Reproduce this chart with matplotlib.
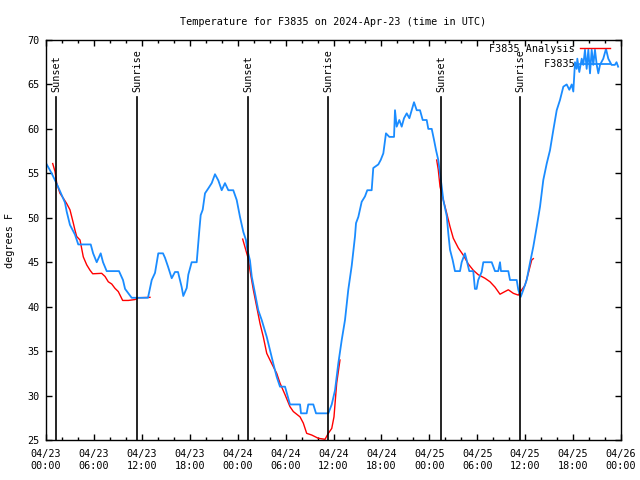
import matplotlib
matplotlib.use("Agg")
import matplotlib.pyplot as plt
import matplotlib.dates as mdates
import numpy as np
import pandas as pd

START = pd.Timestamp("2024-04-23 00:00")

# station observations: hours since start, degrees F
obs_hours = [
    0.09, 0.71, 1.25, 1.75, 2.38, 2.59, 3.0, 3.63, 4.04, 5.6, 5.9, 6.35, 6.85, 7.14, 7.6,
    9.14, 9.64, 9.9, 10.73, 12.77, 13.24, 13.65, 14.06, 14.65, 14.9, 15.28, 15.74, 16.15,
    16.53, 16.99, 17.19, 17.62, 17.82, 18.24, 18.87, 19.2, 19.37, 19.62, 19.91, 20.32,
    20.75, 21.16, 21.58, 22.0, 22.41, 22.83, 23.45, 23.88, 24.29, 24.71, 25.04, 25.21,
    25.54, 25.76, 26.17, 26.58, 27.01, 27.64, 28.05, 28.46, 28.89, 29.3, 29.93, 30.55,
    31.81, 31.93, 32.64, 32.84, 33.47, 33.81, 35.35, 35.78, 36.19, 36.6, 37.03, 37.44,
    37.85, 38.28, 38.69, 38.82, 39.11, 39.53, 39.94, 40.23, 40.78, 40.98, 41.61, 41.91,
    42.24, 42.57, 42.99, 43.58, 43.7, 43.91, 44.24, 44.54, 44.83, 45.17, 45.5, 45.79,
    46.08, 46.42, 46.83, 47.17, 47.67, 47.87, 48.3, 48.59, 48.84, 49.12, 49.34, 49.55,
    49.75, 50.18, 50.38, 50.59, 50.92, 51.21, 51.84, 52.05, 52.46, 52.67, 53.0, 53.5,
    53.71, 53.92, 54.12, 54.55, 54.76, 55.81, 56.22, 56.63, 56.85, 56.97, 57.89, 58.1,
    58.94, 59.14, 59.44, 59.77, 60.19, 60.6, 61.02, 61.45, 61.86, 62.27, 62.7, 63.11,
    63.53, 63.95, 64.36, 64.78, 65.2, 65.53, 65.83, 66.03, 66.24, 66.45, 66.53, 66.78,
    67.08, 67.28, 67.49, 67.7, 67.91, 68.12, 68.33, 68.53, 68.74, 68.96, 69.16, 69.37,
    69.78, 70.12, 70.41, 70.82, 71.23, 71.44, 71.64,
]
obs_temp = [
    56, 55, 54, 53, 51.7, 50.7, 49.2, 48.1, 47, 47, 46, 45, 46, 45, 44,
    44, 43, 42, 41, 41, 43, 43.8, 46, 46, 45.5, 44.5, 43.2, 43.9,
    43.9, 42.2, 41.2, 42.1, 43.6, 45, 45, 48.6, 50.3, 50.9, 52.75, 53.3,
    53.9, 54.9, 54.2, 53.1, 53.9, 53.1, 53.1, 52, 50.1, 48.4, 47.5, 46.4,
    45.2, 43.4, 41.5, 39.6, 38.5, 36.6, 35.1, 33.6, 32.1, 31, 31, 29,
    29, 28, 28, 29, 29, 28, 28, 29, 30.6, 33.6, 36.25, 38.5,
    41.9, 44.6, 47.9, 49.4, 50.1, 51.8, 52.4, 53.1, 53.1, 55.6, 56, 56.5,
    57.25, 59.5, 59.1, 59.1, 62.1, 60.25, 61, 60.25, 61.2, 61.75, 61.2, 62.1,
    63, 62.1, 62.1, 61, 61, 60, 60, 58.75, 57.6, 56.5, 55, 53.5,
    52, 50.2, 48.2, 46.4, 45.25, 44, 44, 45, 46, 45.25, 44, 44,
    42, 42, 43, 43.9, 45, 45, 44, 44, 45, 44, 44, 43,
    43, 41.9, 41.1, 41.9, 43, 44.9, 46.75, 49, 51.25, 54.25, 56.1, 57.6,
    59.9, 62.1, 63.25, 64.75, 65, 64.4, 65, 64.2, 67.5, 66.75, 67.9, 66.4,
    67.9, 67.2, 68.9, 66.75, 68.9, 66.25, 68.9, 67.2, 68.9, 67.2, 66.25, 67.2,
    67.9, 69, 67.9, 67.2, 67.2, 67.5, 67,
]

# analysis series (gaps between runs)
ana_hours = [
    0.84, 1.13, 1.34, 1.75, 2.17, 2.59, 3.0, 3.42, 3.63, 3.84, 4.26, 4.67, 5.1, 5.51, 5.85,
    6.97, 7.39, 7.8, 8.23, 8.64, 9.05, 9.6, 10.31, 11.14, 11.56, 13.02,
    np.nan,
    24.63, 25.33, 25.54, 25.96, 26.38, 26.8, 27.21, 27.64, 28.26, 28.89, 29.3, 29.93,
    30.55, 30.97, 31.81, 32.22, 32.64, 33.27, 34.1, 34.94, 35.35, 35.78, 36.06, 36.4, 36.81,
    np.nan,
    48.92, 49.12, 49.34, 49.75, 50.18, 50.59, 51.0, 51.63, 52.25, 52.88, 53.5, 54.12,
    54.96, 55.6, 56.22, 56.85, 57.26, 57.89, 58.52, 59.14, 59.57, 59.98, 60.39, 60.82, 61.02,
]
ana_temp = [
    56.1, 55.2, 53.9, 52.75, 52.2, 51.6, 50.9, 49.4, 48.6, 47.9, 47.5, 45.6, 44.7, 44.1, 43.7,
    43.75, 43.4, 42.8, 42.55, 42.06, 41.7, 40.7, 40.7, 40.8, 41, 41.05,
    np.nan,
    47.6, 45.4, 44.1, 41.9, 40, 38.1, 36.6, 34.75, 33.6, 32.5, 31.4, 30.1,
    28.75, 28.2, 27.6, 26.9, 25.75, 25.56, 25.19, 25.08, 25.75, 26.3, 27.6, 31.4, 34,
    np.nan,
    56.5, 55.4, 53.5, 52, 50.5, 49, 47.7, 46.6, 45.8, 44.8, 44.1, 43.6,
    43.2, 42.8, 42.2, 41.4, 41.6, 41.9, 41.5, 41.3, 41.9, 42.4, 43.75, 45.25, 45.4,
]

sun_hours = [1.25, 11.39, 25.29, 35.31, 49.46, 59.35]
sun_labels = ["Sunset", "Sunrise", "Sunset", "Sunrise", "Sunset", "Sunrise"]


def hours_to_num(hours):
    return [np.nan if np.isnan(h) else mdates.date2num(START + pd.Timedelta(hours=h))
            for h in hours]


plt.rcParams["font.family"] = ["DejaVu Sans Mono"]
fs = 7.3

fig = plt.figure(figsize=(6.4, 4.8), dpi=100)
ax = fig.add_axes([46 / 640, 40 / 480, 575 / 640, 400 / 480])

ax.plot(hours_to_num(ana_hours), ana_temp, color="#ff0000", linewidth=1.0,
        label="F3835 Analysis")
# pad with spaces so the monospace labels line up on the right like gnuplot keys
ax.plot(hours_to_num(obs_hours), obs_temp, color="#1a8cff", linewidth=1.3,
        label="         F3835")

for xs, lab in zip(hours_to_num(sun_hours), sun_labels):
    ax.plot([xs, xs], [25, 63.6], color="black", linewidth=1.2)
    ax.text(xs, 64.1, lab, rotation=90, ha="center", va="bottom", fontsize=fs)

x0, x1 = hours_to_num([0.0, 72.0])
ax.set_xlim(x0, x1)
ax.set_ylim(25, 70)
ax.set_yticks(np.arange(25, 71, 5))

ax.xaxis.set_major_locator(mdates.HourLocator(byhour=range(0, 24, 6)))
ax.xaxis.set_minor_locator(mdates.HourLocator(byhour=range(0, 24, 2)))
ax.xaxis.set_major_formatter(mdates.DateFormatter("%m/%d\n%H:%M"))

ax.tick_params(which="both", direction="in", top=True, right=True, labelsize=fs, width=1.0)
ax.tick_params(which="major", length=4.0)
ax.tick_params(which="minor", length=2.2)
ax.tick_params(axis="x", pad=6.5)
ax.tick_params(axis="y", pad=4.5)
for s in ax.spines.values():
    s.set_linewidth(1.0)

ax.set_title("Temperature for F3835 on 2024-Apr-23 (time in UTC)", fontsize=fs, pad=11)
ax.set_ylabel("degrees F", fontsize=fs, labelpad=9)

ax.legend(loc="upper right", bbox_to_anchor=(0.981, 0.99), frameon=False, fontsize=fs,
          markerfirst=False, handlelength=3.0, handletextpad=0.5, borderaxespad=0.0,
          borderpad=0.0, labelspacing=0.5)

fig.savefig("out.png", dpi=100)
